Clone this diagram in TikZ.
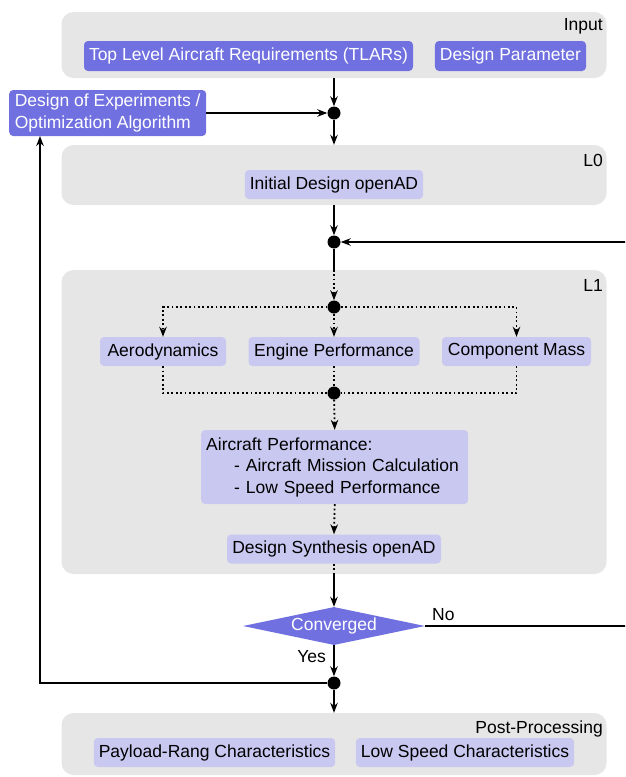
\documentclass[tikz,border=0pt]{standalone}
\usepackage{fontspec}
\setmainfont{Liberation Sans}
\usetikzlibrary{shapes.geometric}
\usetikzlibrary{arrows.meta}
\usetikzlibrary{positioning}

\definecolor{panelgray}{RGB}{230,230,230}
\definecolor{darkblue}{RGB}{112,112,224}
\definecolor{lightblue}{RGB}{200,200,240}

\begin{document}
\begin{tikzpicture}[x=1pt, y=-1pt,
  font=\fontsize{17.5}{21.5}\selectfont,
  panel/.style={fill=panelgray, rounded corners=12pt, minimum width=545pt, inner sep=0pt},
  tag/.style={anchor=base east, inner sep=0pt},
  darkbox/.style={fill=darkblue, text=white, rounded corners=4pt, minimum height=30pt, inner xsep=5pt},
  lightbox/.style={fill=lightblue, rounded corners=4pt, minimum height=29pt, inner xsep=5pt},
  junction/.style={circle, fill=black, minimum size=13pt, inner sep=0pt},
  wire/.style={line width=1.8pt},
  flow/.style={wire, -{Stealth[length=10pt,width=7.5pt]}},
  dotwire/.style={wire, dash pattern=on 1.8pt off 2.6pt},
  dotflow/.style={flow, dash pattern=on 1.8pt off 2.6pt}
]
  \useasboundingbox (0,0) rectangle (625,777);
  \clip (0,0) rectangle (625,777);

  % panels
  \node[panel, minimum height=66] (input) at (334,45) {};
  \node[tag] (inputtag) at (603,30) {Input};
  \node[panel, minimum height=60] (l0) at (334,175) {};
  \node[tag] (l0tag) at (603,166) {L0};
  \node[panel, minimum height=304] (l1) at (334,422) {};
  \node[tag] (l1tag) at (603,291) {L1};
  \node[panel, minimum height=62] (post) at (334,744) {};
  \node[tag] (posttag) at (603,733) {Post-Processing};

  % input
  \node[darkbox, minimum width=329] (tlar) at (248.5,56) {Top Level Aircraft Requirements (TLARs)};
  \node[darkbox, minimum width=151] (param) at (510.5,56) {Design Parameter};
  \node[darkbox, anchor=west, minimum width=197, minimum height=46, align=left] (doe) at (9,113)
    {Design of Experiments /\\Optimization Algorithm};
  \node[junction] (dot1) at (334,113) {};

  % L0
  \node[lightbox, minimum width=178] (init) at (334,184.5) {Initial Design openAD};
  \node[junction] (dot2) at (334,242) {};

  % L1
  \node[junction] (dot3) at (334,307) {};
  \node[lightbox, minimum width=126] (aero) at (163,351.5) {Aerodynamics};
  \node[lightbox, minimum width=171] (engine) at (334,351.5) {Engine Performance};
  \node[lightbox, minimum width=149] (mass) at (516.5,351.5) {Component Mass};
  \node[junction] (dot4) at (334,393) {};
  \node[lightbox, anchor=west, text width=257, minimum height=74, align=left] (perf) at (201,467)
    {Aircraft Performance:\\\hspace*{28pt}- Aircraft Mission Calculation\\\hspace*{28pt}- Low Speed Performance};
  \node[lightbox, minimum width=214] (synth) at (334,549) {Design Synthesis openAD};

  % convergence
  \node[diamond, fill=darkblue, text=white, inner sep=0pt, aspect=4.8,
        minimum width=182, minimum height=38] (conv) at (334,626) {Converged};
  \node[anchor=base west, inner sep=0pt] (no) at (432,620) {No};
  \node[anchor=base east, inner sep=0pt] (yes) at (326,662) {Yes};
  \node[junction] (dot5) at (334,683) {};

  % post-processing
  \node[lightbox, minimum width=239] (payload) at (214.5,752.5) {Payload-Rang Characteristics};
  \node[lightbox, minimum width=216] (lowspeed) at (465,752.5) {Low Speed Characteristics};

  \coordinate (rtop) at (645,242);
  \coordinate (rbot) at (645,626);
  \coordinate (ltop) at (40,136);

  \draw[flow] (input.south) -- (dot1);
  \draw[flow] (doe.east) -- (dot1);
  \draw[flow] (dot1) -- (l0.north);
  \draw[flow] (l0.south) -- (dot2);
  \draw[wire] (dot2) -- (l1.north);
  \draw[dotflow] (l1.north) -- (dot3);
  \draw[dotflow] (dot3) -| (aero.north);
  \draw[dotflow] (dot3) -- (engine.north);
  \draw[dotflow] (dot3) -| (mass.north);
  \draw[dotwire] (aero.south) |- (dot4);
  \draw[dotwire] (engine.south) -- (dot4);
  \draw[dotwire] (mass.south) |- (dot4);
  \draw[dotflow] (dot4) -- (perf.north);
  \draw[dotflow] (perf.south) -- (synth.north);
  \draw[dotwire] (synth.south) -- (l1.south);
  \draw[flow] (l1.south) -- (conv.north);
  \draw[flow] (conv.east) -- (rbot) -- (rtop) -- (dot2);
  \draw[flow] (conv.south) -- (dot5);
  \draw[flow] (dot5) -| (ltop);
  \draw[flow] (dot5) -- (post.north);
\end{tikzpicture}
\end{document}
